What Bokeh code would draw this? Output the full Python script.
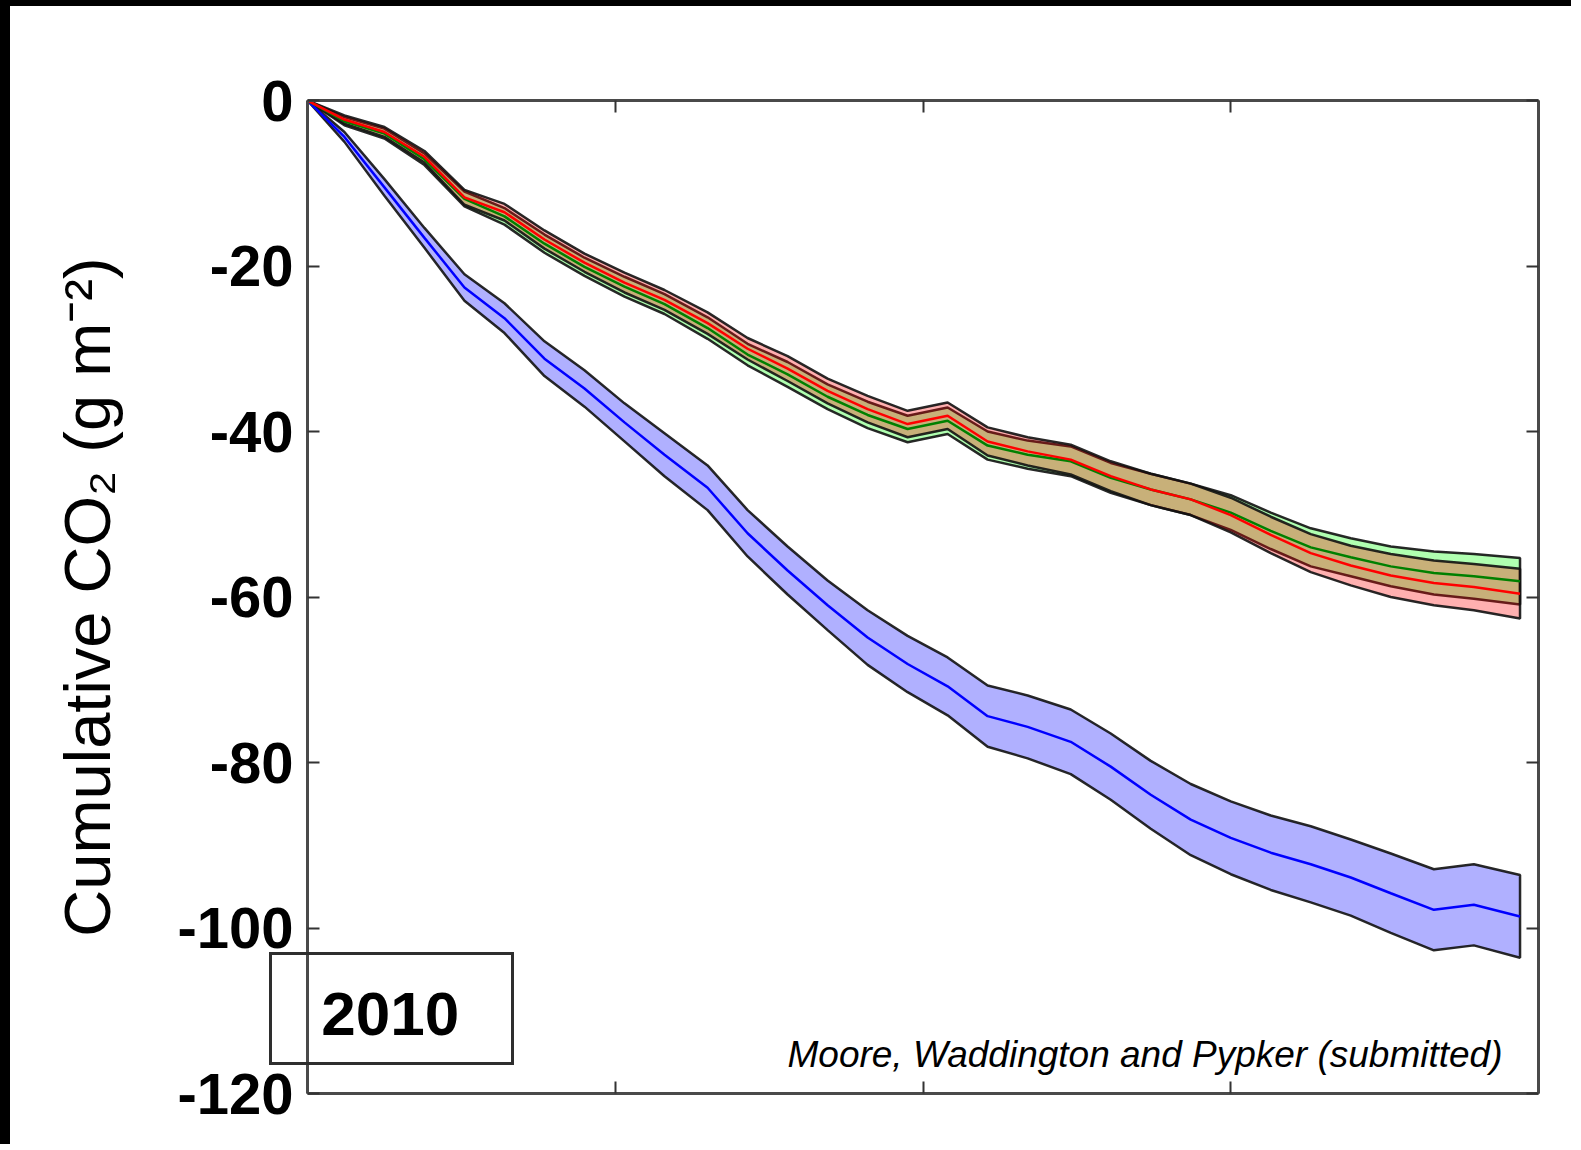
from bokeh.plotting import figure
from bokeh.models import Range1d, LinearAxis, FixedTicker, Label, InlineStyleSheet
from bokeh.embed import file_html
from bokeh.resources import INLINE

# ---------------- data ----------------
x = [0, 0.12, 0.25, 0.38, 0.51, 0.64, 0.77, 0.90, 1.03, 1.16, 1.30, 1.43, 1.56, 1.69,
     1.82, 1.95, 2.08, 2.21, 2.34, 2.48, 2.61, 2.74, 2.87, 3.00, 3.13, 3.26, 3.39,
     3.52, 3.66, 3.79, 3.94]

blue_mean = [0.0, -4.4, -10.5, -16.6, -22.6, -26.3, -31.2, -34.8, -38.9, -42.8, -46.8,
             -52.3, -56.8, -61.0, -64.9, -68.1, -70.8, -74.4, -75.7, -77.5, -80.5, -83.9,
             -86.9, -89.1, -90.9, -92.3, -93.9, -95.8, -97.8, -97.2, -98.6]
blue_err = [0.0, 0.6, 1.0, 1.2, 1.6, 1.8, 2.1, 2.2, 2.3, 2.6, 2.7, 2.8, 2.9, 3.0, 3.3,
            3.4, 3.5, 3.7, 3.8, 3.9, 4.0, 4.1, 4.3, 4.4, 4.5, 4.6, 4.6, 4.8, 4.9, 4.9, 5.0]

red_mean = [0.0, -2.3, -3.8, -6.8, -11.7, -13.5, -16.8, -19.6, -22.0, -24.1, -26.9,
            -30.0, -32.4, -35.1, -37.3, -39.1, -38.1, -41.2, -42.4, -43.4, -45.4, -47.0,
            -48.2, -50.1, -52.5, -54.7, -56.2, -57.4, -58.3, -58.8, -59.6]
red_err = [0.0, 0.5, 0.6, 0.7, 0.9, 1.0, 1.1, 1.1, 1.2, 1.2, 1.3, 1.3, 1.5, 1.5, 1.6,
           1.6, 1.6, 1.7, 1.7, 1.8, 1.8, 1.9, 1.9, 2.1, 2.2, 2.3, 2.4, 2.6, 2.7, 2.8, 3.0]

green_mean = [0.0, -2.5, -4.0, -7.1, -11.9, -14.0, -17.3, -20.1, -22.5, -24.6, -27.5,
              -30.7, -33.1, -35.8, -38.0, -39.7, -38.7, -41.7, -42.8, -43.6, -45.6, -47.0,
              -48.2, -49.8, -52.0, -54.0, -55.2, -56.3, -57.1, -57.5, -58.1]
green_err = [0.0, 0.5, 0.6, 0.7, 0.9, 1.0, 1.1, 1.1, 1.2, 1.2, 1.3, 1.3, 1.5, 1.5, 1.6,
             1.6, 1.6, 1.7, 1.7, 1.8, 1.8, 1.9, 1.9, 2.1, 2.2, 2.3, 2.3, 2.4, 2.6, 2.7, 2.8]

y_ticks = [0, -20, -40, -60, -80, -100, -120]
x_ticks = [0, 1, 2, 3, 4]
y_label = "Cumulative CO\u2082 (g m\u207b\u00b2)"
year_text = "2010"
credit_text = "Moore, Waddington and Pypker (submitted)"

# ---------------- layout (page pixels) ----------------
BT, BL = 6, 10                       # black edge strips (CSS border)
W, H = 1571, 1144                    # canvas size
FL, FT, FR, FB = 307, 100, 1538, 1093  # frame edges in page pixels
X0, X1, Y0, Y1 = 0, 4, -120, 0
BOX = (269, 952, 245, 113)           # year box: left, top, width, height (page px)


def dx(px):
    return X0 + (px - FL) / (FR - FL) * (X1 - X0)


def dy(py):
    return Y1 - (py - FT) / (FB - FT) * (Y1 - Y0)


FONT = "Liberation Sans"

p = figure(width=W, height=H, output_backend="svg", toolbar_location=None,
           x_range=Range1d(X0, X1), y_range=Range1d(Y0, Y1),
           min_border_left=FL - BL, min_border_top=FT - BT,
           min_border_right=W - (FR - BL), min_border_bottom=H - (FB - BT),
           background_fill_color="white", border_fill_color="white")
p.styles = {"border-top": f"{BT}px solid black", "border-left": f"{BL}px solid black",
            "position": "relative"}
bl, bt, bw, bh = BOX
p.stylesheets = [InlineStyleSheet(css=(
    ":host::after { content: ''; position: absolute; "
    f"left: {bl - BL}px; top: {bt - BT}px; width: {bw}px; height: {bh}px; "
    "box-sizing: border-box; border: 3px solid #2e2e2e; pointer-events: none; z-index: 5; }"
))]
p.outline_line_color = None
p.xgrid.grid_line_color = None
p.ygrid.grid_line_color = None

AX_COL = "#4a4a4a"


def style_axis(ax, labels):
    ax.major_tick_in = 12
    ax.major_tick_out = 0
    ax.minor_tick_line_color = None
    ax.axis_line_color = AX_COL
    ax.axis_line_width = 3
    ax.major_tick_line_color = "#333333"
    ax.major_tick_line_width = 2
    if not labels:
        ax.major_label_text_color = None
        ax.major_label_text_font_size = "1px"
        ax.major_label_standoff = 0


left = p.yaxis[0]
left.ticker = FixedTicker(ticks=y_ticks)
left.major_label_overrides = {t: str(t) for t in y_ticks}
style_axis(left, True)
left.major_label_text_font = FONT
left.major_label_text_font_style = "bold"
left.major_label_text_font_size = "58px"
left.major_label_text_color = "black"
left.major_label_standoff = 14
left.axis_label = y_label
left.axis_label_text_font = FONT
left.axis_label_text_font_style = "normal"
left.axis_label_text_font_size = "65px"
left.axis_label_text_color = "black"
left.axis_label_standoff = 50

bottom = p.xaxis[0]
bottom.ticker = FixedTicker(ticks=x_ticks)
style_axis(bottom, False)

right = LinearAxis(ticker=FixedTicker(ticks=y_ticks))
style_axis(right, False)
p.add_layout(right, "right")

top = LinearAxis(ticker=FixedTicker(ticks=x_ticks))
style_axis(top, False)
p.add_layout(top, "above")


# ---------------- bands and lines ----------------
def band(mean, err, fill):
    upper = [m + e for m, e in zip(mean, err)]
    lower = [m - e for m, e in zip(mean, err)]
    p.patch(x + x[::-1], upper + lower[::-1], fill_color=fill, fill_alpha=0.31,
            line_color="#111111", line_width=2.5, line_alpha=0.9)


band(blue_mean, blue_err, "#0000ff")
band(green_mean, green_err, "#00ff00")
band(red_mean, red_err, "#ff0000")

p.line(x, blue_mean, line_color="#0000ff", line_width=2.5)
p.line(x, green_mean, line_color="#008000", line_width=2.5)
p.line(x, red_mean, line_color="#ff0000", line_width=2.5)

# ---------------- annotations ----------------
p.add_layout(Label(x=dx(389.7), y=dy(1013), text=year_text, text_font=FONT,
                   text_font_style="bold", text_font_size="62px", text_align="center",
                   text_baseline="middle", text_color="black"))
p.add_layout(Label(x=dx(1502), y=dy(1054), text=credit_text, text_font=FONT,
                   text_font_style="italic", text_font_size="37px", text_align="right",
                   text_baseline="alphabetic", text_color="black"))

open("out.html", "w").write(file_html(p, INLINE))
